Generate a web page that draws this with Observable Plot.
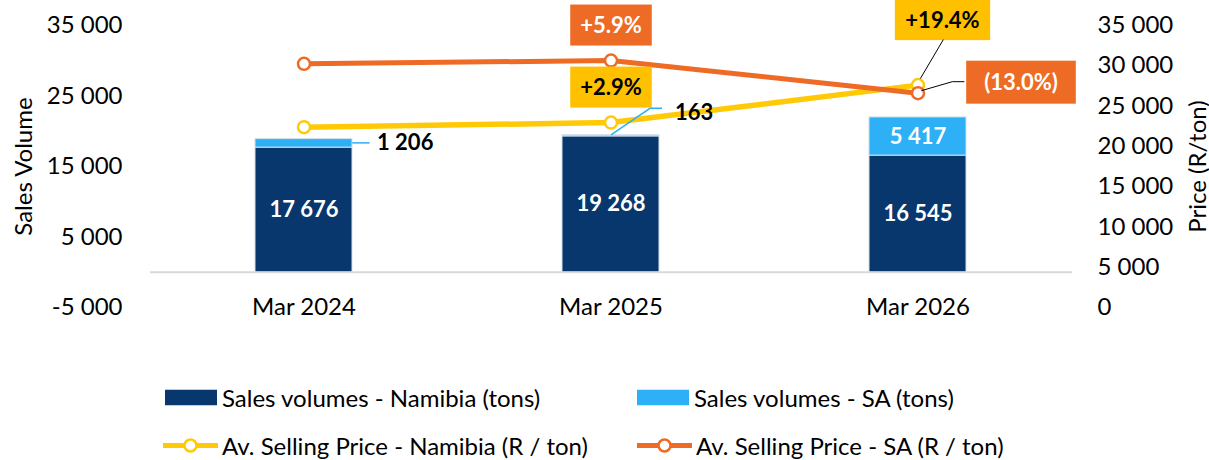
<!DOCTYPE html>
<html><head><meta charset="utf-8">
<script src="https://cdn.jsdelivr.net/npm/d3@7"></script>
<script src="https://cdn.jsdelivr.net/npm/@observablehq/plot@0.6"></script>
<style>
body{margin:0;background:#fff;font-family:Lato,sans-serif;}
#wrap{width:1209px;position:relative;}
#wrap > svg{display:block;}
.legend{position:relative;width:1209px;height:120px;font-size:24px;color:#000;}
.item{position:absolute;display:flex;align-items:center;white-space:nowrap;transform:translateY(-50%);}
</style></head><body><div id="wrap"></div>
<script>
// ---- data ----
const periods = ["Mar 2024", "Mar 2025", "Mar 2026"];
const volNamibia = [17676, 19268, 16545];
const volSA = [1206, 163, 5417];
const priceNamibia = [22380, 22950, 27600];
const priceSA = [30250, 30650, 26600];
const changeNamibia = ["", "+2.9%", "+19.4%"];
const changeSA = ["", "+5.9%", "(13.0%)"];
const volTicks = [-5000, 5000, 15000, 25000, 35000];
const priceTicks = [0, 5000, 10000, 15000, 20000, 25000, 30000, 35000];
const volDomain = [-5000, 35000];
const priceDomain = [0, 35000];
const legendLabels = ["Sales volumes - Namibia (tons)", "Sales volumes - SA (tons)",
  "Av. Selling Price - Namibia (R / ton)", "Av. Selling Price - SA (R / ton)"];

// ---- styles ----
const NAVY = "#07376D", SKY = "#2DB0F6", GOLD = "#FFCA05", GOLDBOX = "#FFC000", ORANGE = "#EE6B25";

const loc = d3.formatLocale({decimal: ".", thousands: " ", grouping: [3], currency: ["", ""], minus: "-"});
const fmt = loc.format(",");
const toVol = p => volDomain[0] + (p - priceDomain[0]) * (volDomain[1] - volDomain[0]) / (priceDomain[1] - priceDomain[0]);
const toPrice = v => priceDomain[0] + (v - volDomain[0]) * (priceDomain[1] - priceDomain[0]) / (volDomain[1] - volDomain[0]);

const vol = periods.flatMap((p, i) => [
  {period: p, series: "Namibia", value: volNamibia[i]},
  {period: p, series: "SA", value: volSA[i]}
]);
const pN = periods.map((p, i) => ({period: p, price: priceNamibia[i], y: toVol(priceNamibia[i]), change: changeNamibia[i]}));
const pS = periods.map((p, i) => ({period: p, price: priceSA[i], y: toVol(priceSA[i]), change: changeSA[i]}));

const bold = {fontWeight: "bold", fontSize: 22};

const chart = Plot.plot({
  width: 1209, height: 340,
  marginLeft: 150, marginRight: 137, marginTop: 25, marginBottom: 33,
  style: {fontFamily: "Lato, sans-serif", fontSize: "24px", color: "#000", background: "#fff", overflow: "visible"},
  x: {domain: periods, paddingInner: 0.684, paddingOuter: 0.342, axis: null},
  y: {domain: volDomain, axis: null},
  color: {domain: ["Namibia", "SA"], range: [NAVY, SKY]},
  marks: [
    Plot.axisY(volTicks, {anchor: "left", tickSize: 0, tickPadding: 28, tickFormat: fmt, label: null}),
    Plot.axisY(priceTicks.map(toVol), {anchor: "right", tickSize: 0, tickPadding: 25, tickFormat: v => fmt(Math.round(toPrice(v))), label: null}),
    Plot.text(["Sales Volume"], {frameAnchor: "left", textAnchor: "middle", rotate: -90, dx: -126}),
    Plot.text(["Price (R/ton)"], {frameAnchor: "right", textAnchor: "middle", rotate: -90, dx: 126}),
    Plot.text(periods, {x: d => d, frameAnchor: "bottom", lineAnchor: "middle"}),
    Plot.ruleY([0], {stroke: "#d9d9d9", strokeWidth: 2}),
    Plot.barY(vol, {x: "period", y: "value", fill: "series", stroke: "#d6e0ea", strokeWidth: 1}),
    Plot.text(vol, Plot.stackY({x: "period", y: "value", z: "series",
      text: d => (d.series === "Namibia" || d.value >= 2000) ? fmt(d.value) : "", fill: "white", ...bold})),
    Plot.line(pN, {x: "period", y: "y", stroke: GOLD, strokeWidth: 5.5}),
    Plot.dot(pN, {x: "period", y: "y", r: 6, fill: "white", stroke: GOLD, strokeWidth: 2.5}),
    Plot.line(pS, {x: "period", y: "y", stroke: ORANGE, strokeWidth: 5}),
    Plot.dot(pS, {x: "period", y: "y", r: 6, fill: "white", stroke: ORANGE, strokeWidth: 2.5}),
    Plot.text(vol, Plot.stackY({x: "period", y: "value", z: "series",
      text: d => (d.series === "SA" && d.period === periods[0]) ? fmt(d.value) : "",
      textAnchor: "start", dx: 73, dy: 0, fill: "#000", ...bold})),
    Plot.text(vol, Plot.stackY({x: "period", y: "value", z: "series",
      text: d => (d.series === "SA" && d.period === periods[1]) ? fmt(d.value) : "",
      textAnchor: "start", dx: 64, dy: -23, fill: "#000", ...bold})),
    Plot.text(pS, {x: "period", y: "y", text: d => d.period === periods[1] ? d.change : "", dy: -34.5, fill: "white", ...bold}),
    Plot.text(pN, {x: "period", y: "y", text: d => d.period === periods[1] ? d.change : "", dy: -34.5, fill: "#000", ...bold}),
    Plot.text(pN, {x: "period", y: "y", text: d => d.period === periods[2] ? d.change : "", dx: 24.5, dy: -64.5, fill: "#000", ...bold}),
    Plot.text(pS, {x: "period", y: "y", text: d => d.period === periods[2] ? d.change : "", dx: 103, dy: -10, fill: "white", ...bold})
  ]
});
document.getElementById("wrap").append(chart);

const NS = "http://www.w3.org/2000/svg";
// boxes behind the change labels (found by their text)
function box(label, color, padX, H) {
  if (!label) return;
  chart.querySelectorAll("text").forEach(t => {
    if (t.textContent !== label) return;
    const b = t.getBBox();
    const r = document.createElementNS(NS, "rect");
    r.setAttribute("x", b.x - padX);
    r.setAttribute("width", b.width + 2 * padX);
    r.setAttribute("y", -H / 2 - 1);
    r.setAttribute("height", H);
    r.setAttribute("fill", color);
    const tr = t.getAttribute("transform");
    if (tr) r.setAttribute("transform", tr);
    t.parentNode.insertBefore(r, t);
  });
}
box(changeSA[1], ORANGE, 10, 41);
box(changeNamibia[1], GOLDBOX, 10, 41);
box(changeNamibia[2], GOLDBOX, 10.5, 41);
box(changeSA[2], ORANGE, 18, 43);

// leader lines
const sx = chart.scale("x"), sy = chart.scale("y");
const xb = d3.scaleBand(sx.domain, sx.range).paddingInner(sx.paddingInner).paddingOuter(sx.paddingOuter).align(sx.align ?? 0.5);
const yl = d3.scaleLinear(sy.domain, sy.range);
const xc = p => xb(p) + xb.bandwidth() / 2;
const lg = d3.select(chart).append("g").attr("fill", "none");
function leader(pts, color, w) {
  lg.append("path").attr("d", d3.line()(pts)).attr("stroke", color).attr("stroke-width", w);
}
{ // 1 206
  const x = xc(periods[0]), y = yl(volNamibia[0] + volSA[0] / 2);
  leader([[x + xb.bandwidth() / 2, y], [x + 66, y]], SKY, 1.5);
}
{ // 163
  const x = xc(periods[1]), y = yl(volNamibia[1] + volSA[1]);
  leader([[x, y], [x + 39, y - 26.5], [x + 51, y - 26.5]], SKY, 1.5);
}
{ // +19.4%
  const x = xc(periods[2]), y = yl(toVol(priceNamibia[2]));
  leader([[x + 2, y - 6], [x + 25, y - 45]], "#000", 1);
}
{ // (13.0%)
  const x = xc(periods[2]), y = yl(toVol(priceSA[2]));
  leader([[x + 3, y - 2], [x + 34, y - 11], [x + 46, y - 11]], "#000", 1);
}

// legend
const legend = d3.select("#wrap").append("div").attr("class", "legend");
const items = [
  {label: legendLabels[0], kind: "rect", color: NAVY, left: 165, top: 57},
  {label: legendLabels[1], kind: "rect", color: SKY, left: 637, top: 57},
  {label: legendLabels[2], kind: "line", color: GOLD, left: 163, top: 105},
  {label: legendLabels[3], kind: "line", color: ORANGE, left: 637, top: 105}
];
items.forEach(it => {
  const d = legend.append("div").attr("class", "item").style("left", it.left + "px").style("top", it.top + "px");
  if (it.kind === "rect") {
    const s = d.append("svg").attr("width", 52).attr("height", 16);
    s.append("rect").attr("width", 52).attr("height", 16).attr("fill", it.color);
    d.append("span").style("margin-left", "5px").text(it.label);
  } else {
    const s = d.append("svg").attr("width", 55).attr("height", 16);
    s.append("line").attr("x1", 0).attr("x2", 55).attr("y1", 8).attr("y2", 8).attr("stroke", it.color).attr("stroke-width", 5);
    s.append("circle").attr("cx", 27.5).attr("cy", 8).attr("r", 6).attr("fill", "white").attr("stroke", it.color).attr("stroke-width", 2.5);
    d.append("span").style("margin-left", "4px").text(it.label);
  }
});
</script></body></html>
